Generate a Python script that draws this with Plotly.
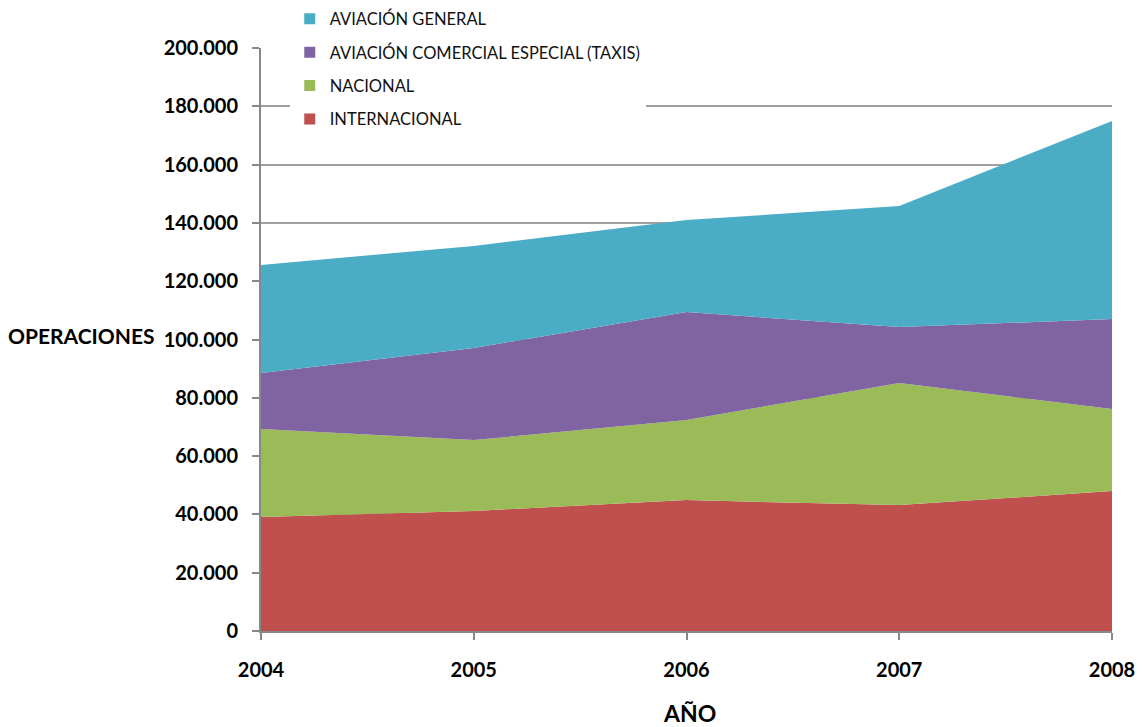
import plotly.graph_objects as go

years = [2004, 2005, 2006, 2007, 2008]
internacional = [39100, 41200, 44900, 43200, 48000]
nacional = [30200, 24300, 27500, 41900, 28200]
taxis = [19200, 31600, 37000, 19200, 30800]
general = [37100, 35000, 31600, 41500, 68000]

series = [
    ("INTERNACIONAL", internacional, "#C0504D"),
    ("NACIONAL", nacional, "#9BBB59"),
    ("AVIACIÓN COMERCIAL ESPECIAL (TAXIS)", taxis, "#8064A2"),
    ("AVIACIÓN GENERAL", general, "#4BACC6"),
]
y_ticks = [0, 20000, 40000, 60000, 80000, 100000, 120000, 140000, 160000, 180000, 200000]
y_tick_text = ["0", "20.000", "40.000", "60.000", "80.000", "100.000", "120.000",
               "140.000", "160.000", "180.000", "200.000"]

fig = go.Figure()
for name, vals, col in series:
    fig.add_trace(go.Scatter(
        x=years, y=vals, name=name, stackgroup="one", mode="none",
        fillcolor=col, line=dict(width=0), showlegend=False, hoverinfo="skip"))
# legend entries, top to bottom
for i, (name, vals, col) in enumerate(reversed(series)):
    fig.add_trace(go.Scatter(
        x=[None], y=[None], name=name, mode="markers",
        marker=dict(symbol="square", size=11, color=col),
        legendgroup=f"g{i}", showlegend=True))

FONT = "Lato, 'Open Sans', sans-serif"
fig.update_layout(
    width=1143, height=727,
    margin=dict(l=261, r=31, t=48, b=96, autoexpand=False),
    paper_bgcolor="white", plot_bgcolor="white",
    font=dict(family=FONT, color="black"),
    showlegend=True,
    legend=dict(
        xref="container", yref="container",
        x=0.2535, y=0.998, xanchor="left", yanchor="top",
        traceorder="grouped", bgcolor="white",
        font=dict(size=16.5, family=FONT, color="#111"),
        tracegroupgap=9, itemwidth=30,
    ),
    xaxis=dict(
        range=[2004, 2008], tickvals=years, ticktext=[str(y) for y in years],
        showgrid=False, zeroline=False, automargin=False,
        showline=True, linecolor="#888888", linewidth=2,
        ticks="outside", ticklen=7, tickcolor="#888888", tickwidth=1.5,
        tickfont=dict(size=20, family=FONT, color="black", weight="bold"),
        ticklabelstandoff=13,
    ),
    yaxis=dict(
        range=[0, 200000], tickvals=y_ticks, ticktext=y_tick_text,
        showgrid=True, gridcolor="#A0A0A0", gridwidth=1.5, zeroline=False,
        automargin=False,
        showline=True, linecolor="#888888", linewidth=2,
        ticks="outside", ticklen=7, tickcolor="#888888", tickwidth=1.5,
        tickfont=dict(size=20, family=FONT, color="black", weight="bold"),
        ticklabelstandoff=10,
    ),
    annotations=[
        dict(text="<b>OPERACIONES</b>", xref="paper", yref="y",
             x=-0.2996, y=101500, xanchor="left", yanchor="middle",
             showarrow=False, font=dict(size=21, family=FONT, color="black")),
        dict(text="<b>AÑO</b>", xref="paper", yref="paper",
             x=0.503, y=-0.1407, xanchor="center", yanchor="middle",
             showarrow=False, font=dict(size=23, family=FONT, color="black")),
    ],
)

fig.write_html("out.html")
